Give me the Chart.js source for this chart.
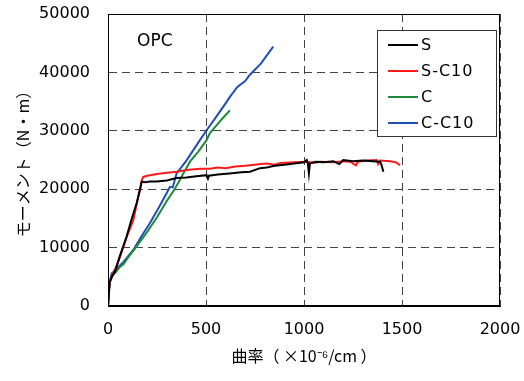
<!DOCTYPE html>
<html>
<head>
<meta charset="utf-8">
<script src="https://cdn.jsdelivr.net/npm/chart.js@4"></script>
<style>
  html, body { margin: 0; padding: 0; background: #fff; }
  #wrap { width: 524px; height: 381px; }
</style>
</head>
<body>
<div id="wrap"><canvas id="chart" width="524" height="381"></canvas></div>
<script>
// series (curvature x1e-6/cm, moment N·m)
const seriesLabels = ["S", "S-C10", "C", "C-C10"];
const seriesColors = ["#000000", "#ff1a1a", "#1f8a3c", "#1f4fb0"];

const sX = [0, 8, 20, 36, 60, 95, 120, 146, 165, 172, 190, 214, 248, 300, 350, 400, 450, 503, 510, 515, 560, 620, 680, 724, 776, 810, 850, 900, 950, 1000, 1014, 1020, 1025, 1030, 1039, 1045, 1060, 1100, 1150, 1180, 1200, 1250, 1300, 1350, 1388, 1395, 1400, 1405];
const sY = [0, 4000, 5000, 5900, 8500, 11900, 14800, 17600, 20200, 21300, 21200, 21300, 21300, 21500, 21900, 22000, 22200, 22400, 21800, 22300, 22500, 22700, 22900, 23000, 23600, 23700, 24000, 24200, 24400, 24600, 25000, 24300, 22700, 24400, 24500, 24600, 24700, 24600, 24800, 24300, 25000, 24800, 24900, 24800, 24700, 24200, 23600, 23000];

const scX = [0, 8, 20, 27, 45, 61, 95, 129, 150, 163, 172, 180, 200, 214, 250, 300, 350, 400, 469, 520, 560, 600, 650, 700, 724, 780, 810, 850, 880, 950, 1014, 1050, 1080, 1150, 1200, 1235, 1265, 1275, 1320, 1371, 1378, 1388, 1440, 1470, 1490];
const scY = [0, 4000, 5000, 5600, 7000, 8400, 11800, 14700, 18000, 19900, 21500, 22100, 22300, 22400, 22600, 22800, 23000, 23300, 23500, 23500, 23700, 23600, 23900, 24000, 24100, 24300, 24400, 24200, 24500, 24600, 24700, 24500, 24700, 24600, 24800, 24700, 24100, 24700, 24900, 25000, 24300, 24900, 24800, 24600, 24100];

const cX = [0, 8, 20, 40, 61, 80, 100, 146, 200, 250, 300, 340, 367, 384, 420, 460, 503, 520, 560, 600, 622];
const cY = [0, 4000, 5200, 5800, 6700, 7200, 8200, 10200, 12700, 15200, 18000, 20000, 21600, 22700, 24800, 26400, 28400, 29600, 31200, 32700, 33500];

const ccX = [0, 8, 19, 40, 80, 129, 170, 214, 260, 299, 316, 330, 340, 350, 400, 469, 503, 550, 600, 622, 660, 700, 724, 780, 843];
const ccY = [0, 4000, 5600, 6200, 7600, 9600, 11900, 14200, 16900, 19300, 20400, 20300, 21500, 22700, 24900, 28400, 30100, 32300, 34700, 35800, 37500, 38500, 39600, 41500, 44400];

const xTicks = [0, 500, 1000, 1500, 2000];
const yTicks = [0, 10000, 20000, 30000, 40000, 50000];

const seriesX = [sX, scX, cX, ccX];
const seriesY = [sY, scY, cY, ccY];

const tickFont = { family: "'DejaVu Sans', sans-serif", size: 16 };
const titleFont = { family: "'Noto Sans CJK JP', sans-serif", size: 16 };

const datasets = seriesLabels.map((label, i) => ({
  label,
  data: seriesX[i].map((x, j) => ({ x, y: seriesY[i][j] })),
  borderColor: seriesColors[i],
  backgroundColor: seriesColors[i],
  borderWidth: 2,
  pointRadius: 0,
  showLine: true,
  tension: 0
}));

// frame, "OPC" note and the boxed legend inside the plot
const decor = {
  id: "decor",
  afterDraw(chart) {
    const { ctx, chartArea: a } = chart;
    ctx.save();
    ctx.strokeStyle = "#000";
    ctx.lineWidth = 1;
    ctx.setLineDash([]);
    ctx.strokeRect(a.left + 0.5, a.top + 0.5, a.right - a.left - 1, a.bottom - a.top - 1);

    ctx.fillStyle = "#000";
    ctx.font = "17px 'DejaVu Sans', sans-serif";
    ctx.textBaseline = "middle";
    ctx.textAlign = "left";
    ctx.fillText("OPC", 137, 42);

    const bx = 377, by = 30, bw = 119, bh = 106;
    ctx.fillStyle = "#fff";
    ctx.fillRect(bx, by, bw, bh);
    ctx.strokeStyle = "#333";
    ctx.strokeRect(bx + 0.5, by + 0.5, bw, bh);
    ctx.font = "16px 'DejaVu Sans', sans-serif";
    ctx.letterSpacing = "1px";
    chart.data.datasets.forEach((ds, i) => {
      const y = 45 + i * 26;
      ctx.strokeStyle = ds.borderColor;
      ctx.lineWidth = 2;
      ctx.beginPath();
      ctx.moveTo(388, y);
      ctx.lineTo(418, y);
      ctx.stroke();
      ctx.fillStyle = "#000";
      ctx.fillText(ds.label, 421, y + 1);
    });
    ctx.restore();
  }
};

new Chart(document.getElementById("chart"), {
  type: "scatter",
  data: { datasets },
  options: {
    responsive: false,
    animation: false,
    layout: { padding: { top: 14, right: 24, bottom: 0, left: 0 } },
    plugins: { legend: { display: false }, tooltip: { enabled: false } },
    scales: {
      x: {
        type: "linear",
        min: 0,
        max: 2000,
        afterBuildTicks: s => { s.ticks = xTicks.map(v => ({ value: v })); },
        afterFit: s => { s.height = 75; s.paddingLeft = 0; s.paddingRight = 0; },
        ticks: { font: tickFont, color: "#000", padding: 14, maxRotation: 0, callback: v => String(v) },
        grid: { color: "#444", lineWidth: 1, drawTicks: false },
        border: { display: true, color: "#000", width: 1, dash: [8, 5] },
        title: { display: true, text: "曲率（ ×10⁻⁶/cm ）", font: titleFont, color: "#000", padding: { top: 0, bottom: 15 } }
      },
      y: {
        type: "linear",
        min: 0,
        max: 50000,
        afterBuildTicks: s => { s.ticks = yTicks.map(v => ({ value: v })); },
        afterFit: s => { s.width = 108; s.paddingTop = 0; s.paddingBottom = 0; },
        ticks: { font: tickFont, color: "#000", padding: 18, callback: v => String(v) },
        grid: { color: "#444", lineWidth: 1, drawTicks: false },
        border: { display: true, color: "#000", width: 1, dash: [8, 5] },
        title: { display: true, text: "モーメント（N・m）", font: titleFont, color: "#000", padding: { top: 13, bottom: 0 } }
      }
    }
  },
  plugins: [decor]
});
</script>
</body>
</html>
